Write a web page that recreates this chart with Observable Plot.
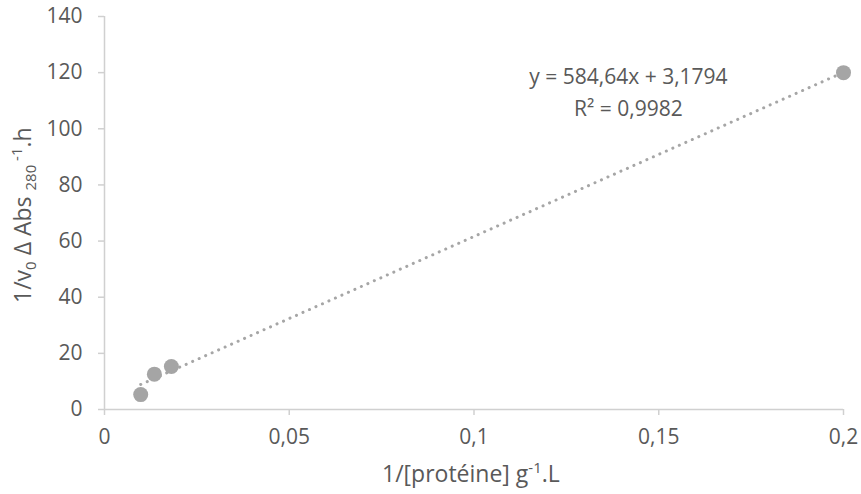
<!DOCTYPE html>
<html>
<head>
<meta charset="utf-8">
<script src="https://cdn.jsdelivr.net/npm/d3@7"></script>
<script src="https://cdn.jsdelivr.net/npm/@observablehq/plot@0.6"></script>
<style>
  html, body { margin: 0; padding: 0; background: #fff; }
  svg { font-family: "Open Sans", "Noto Sans", sans-serif; }
</style>
</head>
<body>
<div id="chart"></div>
<script>
// Data
const invProtein = [0.0098, 0.0135, 0.0181, 0.2];
const invRate = [5.3, 12.6, 15.3, 120];
const slope = 584.64;
const intercept = 3.1794;
const xTicks = [0, 0.05, 0.1, 0.15, 0.2];
const yTicks = [0, 20, 40, 60, 80, 100, 120, 140];
const equationText = "y = 584,64x + 3,1794\nR² = 0,9982";

const points = invProtein.map((x, i) => ({x, y: invRate[i]}));
const xMin = d3.min(invProtein), xMax = d3.max(invProtein);
const trend = [xMin, xMax].map(x => ({x, y: slope * x + intercept}));
const fmt = d => String(d).replace(".", ",");

const grey = "#d0d0d0";
const textColor = "#595959";
const fs = 21;   // tick labels and trendline label
const tfs = 23;  // axis titles
const sfs = 15;  // sub/superscripts

const plot = Plot.plot({
  width: 861,
  height: 494,
  marginLeft: 104,
  marginRight: 18,
  marginTop: 16,
  marginBottom: 85,
  style: {fontSize: fs + "px", color: textColor, fontFamily: "Open Sans"},
  x: {domain: [0, 0.2], label: null, axis: null},
  y: {domain: [0, 140], label: null, axis: null},
  marks: [
    Plot.ruleX([0], {stroke: grey, strokeWidth: 1.5}),
    Plot.ruleY([0], {stroke: grey, strokeWidth: 1.5}),
    Plot.axisX({ticks: xTicks, tickSize: 6, stroke: grey, strokeWidth: 1.5, text: null, label: null}),
    Plot.axisY({ticks: yTicks, tickSize: 6, stroke: grey, strokeWidth: 1.5, text: null, label: null}),
    Plot.text(xTicks, {x: d => d, y: d => 0, text: fmt, dy: 28, lineAnchor: "middle", textAnchor: "middle", fill: textColor, fontSize: fs}),
    Plot.text(yTicks, {x: d => 0, y: d => d, text: d => String(d), dx: -22, textAnchor: "end", lineAnchor: "middle", fill: textColor, fontSize: fs}),
    Plot.line(trend, {x: "x", y: "y", stroke: "#a6a6a6", strokeWidth: 3, strokeDasharray: "0.1,7", strokeLinecap: "round"}),
    Plot.dot(points, {x: "x", y: "y", r: 7.5, fill: "#a5a5a5", stroke: "none"}),
    Plot.text([equationText], {x: 0.1418, y: 113.8, text: d => d, textAnchor: "middle", lineAnchor: "middle", lineHeight: 1.5, fill: textColor, fontSize: fs})
  ]
});

const svg = d3.select(plot);
// x axis title
const xt = svg.append("text")
  .attr("x", 382).attr("y", 482)
  .attr("text-anchor", "start").attr("fill", textColor).attr("font-size", tfs);
xt.append("tspan").text("1/[protéine] g");
xt.append("tspan").attr("dy", -9).attr("font-size", sfs).text("-1");
xt.append("tspan").attr("dy", 9).text(".L");

// y axis title
const yt = svg.append("text")
  .attr("transform", "translate(31,303) rotate(-90)")
  .attr("text-anchor", "start").attr("fill", textColor).attr("font-size", tfs);
yt.append("tspan").text("1/v");
yt.append("tspan").attr("dy", 5).attr("font-size", sfs).text("0");
yt.append("tspan").attr("dy", -5).text(" Δ Abs ");
yt.append("tspan").attr("dy", 5).attr("font-size", sfs).text("280");
yt.append("tspan").attr("dy", -14).attr("font-size", sfs).text(" -1");
yt.append("tspan").attr("dy", 9).text(".h");

document.getElementById("chart").appendChild(plot);
</script>
</body>
</html>
